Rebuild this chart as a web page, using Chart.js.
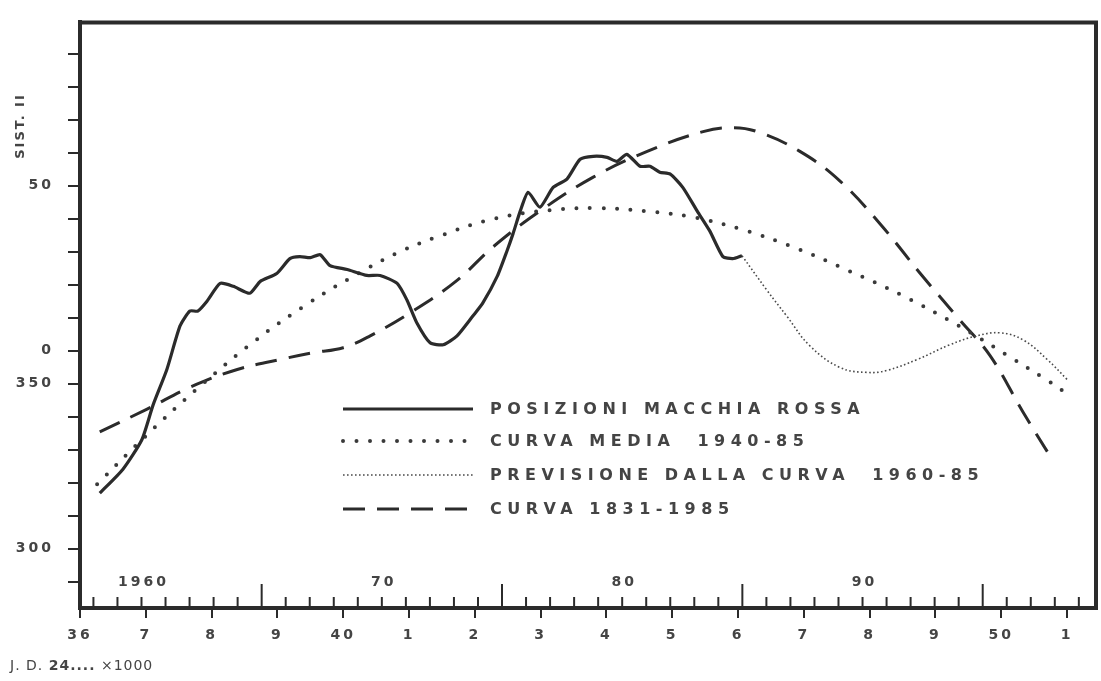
<!DOCTYPE html>
<html>
<head>
<meta charset="utf-8">
<script src="https://cdn.jsdelivr.net/npm/chart.js@4.4.0/dist/chart.umd.min.js"></script>
<style>
html, body { margin: 0; padding: 0; background: #fff; }
#wrap { width: 1101px; height: 681px; }
</style>
</head>
<body>
<div id="wrap"><canvas id="grsChart"></canvas></div>
<script>
// x = J.D. 24.... in thousands of days, y = longitude Sist. II (below 0 wraps to 360)
var seriesNames = ["POSIZIONI MACCHIA ROSSA", "CURVA MEDIA  1940-85", "PREVISIONE DALLA CURVA  1960-85", "CURVA 1831-1985"];

var posX = [36.30, 36.65, 36.94, 37.11, 37.32, 37.52, 37.67, 37.79, 37.93, 38.13, 38.33, 38.58, 38.74, 38.99, 39.19, 39.34, 39.50, 39.65, 39.80, 40.06, 40.36, 40.56, 40.82, 40.97, 41.12, 41.32, 41.52, 41.73, 41.97, 42.12, 42.34, 42.49, 42.58, 42.69, 42.81, 42.99, 43.19, 43.40, 43.60, 43.80, 44.01, 44.16, 44.31, 44.51, 44.66, 44.81, 44.97, 45.16, 45.38, 45.57, 45.77, 45.92, 46.06];
var posY = [-43.2, -36.0, -27.0, -16.5, -5.7, 7.5, 12.0, 12.0, 15.0, 20.4, 19.5, 17.4, 21.0, 23.4, 27.9, 28.5, 28.2, 29.1, 25.8, 24.6, 22.8, 22.8, 20.4, 15.3, 8.4, 2.4, 1.8, 4.5, 10.5, 14.4, 22.5, 30.3, 35.4, 42.3, 48.0, 43.5, 49.5, 52.0, 58.0, 58.9, 58.6, 57.4, 59.5, 55.9, 55.9, 54.1, 53.5, 49.5, 42.3, 36.3, 28.5, 27.9, 28.8];

var mediaX = [36.26, 36.94, 37.79, 38.66, 39.45, 40.07, 40.83, 41.47, 42.28, 43.14, 43.87, 44.59, 45.30, 46.03, 46.90, 47.67, 48.49, 49.33, 50.10, 50.70, 51.08];
var mediaY = [-40.5, -27.0, -11.4, 3.0, 14.1, 21.6, 29.7, 34.8, 39.9, 42.6, 43.2, 42.3, 40.5, 36.9, 30.9, 24.3, 16.8, 7.8, -1.5, -9.0, -14.1];

var prevX = [46.06, 46.44, 46.74, 47.09, 47.55, 47.96, 48.26, 48.72, 49.22, 49.63, 49.98, 50.33, 50.70, 51.00];
var prevY = [28.8, 18.3, 10.5, 1.5, -5.1, -6.6, -6.0, -2.7, 1.8, 4.5, 5.4, 3.3, -2.7, -8.7];

var longX = [36.30, 37.02, 37.67, 38.39, 39.04, 39.54, 40.00, 40.41, 41.06, 41.73, 42.28, 42.99, 43.80, 44.62, 45.47, 45.92, 46.29, 46.94, 47.55, 48.16, 48.77, 49.37, 49.83, 50.33, 50.70];
var longY = [-24.6, -17.7, -11.1, -5.7, -2.7, -0.6, 0.9, 4.5, 12.0, 21.3, 31.5, 42.3, 52.6, 60.4, 66.4, 67.6, 66.4, 60.4, 51.4, 38.4, 23.4, 9.3, -1.5, -18.6, -30.6];

var xTickLabels = ["36", "7", "8", "9", "40", "1", "2", "3", "4", "5", "6", "7", "8", "9", "50", "1"];
var yTickValues = [-60, -10, 0, 50];
var yTickLabels = ["300", "350", "0", "50"];
var yearMarks = [1960, 1970, 1980, 1990];
var yearLabels = ["1960", "70", "80", "90"];

var ink = "#2b2b2b";
var textInk = "#444";

function pts(xs, ys) {
    return xs.map(function (x, i) { return { x: x, y: ys[i] }; });
}

// J.D. (thousands, minus 2400000) of 1 January of a year
function yearToJD(y) {
    return 36.9345 + (y - 1960) * 0.36525;
}

var decor = {
    id: "decor",
    beforeDraw: function (chart) {
        chart.ctx.letterSpacing = "3px";
    },
    beforeDatasetsDraw: function (chart) {
        chart.ctx.letterSpacing = "0px";
    },
    afterDraw: function (chart) {
        var ctx = chart.ctx;
        var a = chart.chartArea;
        var xs = chart.scales.x;
        ctx.save();
        ctx.strokeStyle = ink;
        ctx.lineCap = "square";

        // rest of the frame
        ctx.lineWidth = 4;
        ctx.beginPath();
        ctx.moveTo(a.left, a.top);
        ctx.lineTo(a.right, a.top);
        ctx.lineTo(a.right, a.bottom);
        ctx.stroke();

        // year ticks pointing up from the base line
        ctx.lineWidth = 2;
        ctx.lineCap = "butt";
        for (var yr = 1958; yr <= 1999; yr++) {
            var px = xs.getPixelForValue(yearToJD(yr));
            if (px < a.left + 4 || px > a.right - 4) continue;
            var len = (yr % 10 === 5) ? 24 : 11;
            ctx.beginPath();
            ctx.moveTo(px, a.bottom);
            ctx.lineTo(px, a.bottom - len);
            ctx.stroke();
        }

        ctx.fillStyle = textInk;
        ctx.textBaseline = "middle";
        ctx.textAlign = "center";
        ctx.font = "bold 14px 'DejaVu Sans'";
        ctx.letterSpacing = "3px";
        yearMarks.forEach(function (yr, i) {
            ctx.fillText(yearLabels[i], xs.getPixelForValue(yearToJD(yr)) + 2, a.bottom - 26);
        });

        // axis captions
        ctx.save();
        ctx.translate(21, 126);
        ctx.rotate(-Math.PI / 2);
        ctx.font = "bold 13px 'DejaVu Sans'";
        ctx.letterSpacing = "2px";
        ctx.fillText("SIST. II", 0, 0);
        ctx.restore();

        ctx.textAlign = "left";
        ctx.letterSpacing = "1px";
        var cx = 10, cy = 666;
        var parts = [["J. D. ", "14px 'DejaVu Sans'"], ["24....", "bold 14px 'DejaVu Sans'"], [" \u00d71000", "14px 'DejaVu Sans'"]];
        parts.forEach(function (p) {
            ctx.font = p[1];
            ctx.fillText(p[0], cx, cy);
            cx += ctx.measureText(p[0]).width;
        });

        // legend inside the plot
        var opts = chart.options.plugins.decor;
        ctx.font = "bold 16px 'DejaVu Sans'";
        ctx.letterSpacing = "5.5px";
        chart.data.datasets.forEach(function (ds, i) {
            var ly = opts.rows[i];
            ctx.save();
            ctx.strokeStyle = ds.borderColor;
            ctx.lineWidth = ds.borderWidth;
            ctx.lineCap = ds.borderCapStyle || "butt";
            ctx.setLineDash(ds.borderDash || []);
            ctx.beginPath();
            ctx.moveTo(opts.x0, ly);
            ctx.lineTo(opts.x1, ly);
            ctx.stroke();
            ctx.restore();
            ctx.fillText(ds.label, opts.textX, ly + 1);
        });
        ctx.restore();
    }
};

var ctx = document.getElementById("grsChart").getContext("2d");
var grsChart = new Chart(ctx, {
    type: "line",
    data: {
        datasets: [{
            label: seriesNames[0],
            data: pts(posX, posY),
            borderColor: ink,
            borderWidth: 3.2,
            tension: 0.2,
        }, {
            label: seriesNames[1],
            data: pts(mediaX, mediaY),
            borderColor: "#3a3a3a",
            borderWidth: 4,
            borderDash: [0, 13.5],
            borderCapStyle: "round",
            tension: 0.4,
        }, {
            label: seriesNames[2],
            data: pts(prevX, prevY),
            borderColor: "#4a4a4a",
            borderWidth: 1.6,
            borderDash: [1.6, 2.4],
            tension: 0.4,
        }, {
            label: seriesNames[3],
            data: pts(longX, longY),
            borderColor: ink,
            borderWidth: 3,
            borderDash: [22, 12],
            tension: 0.4,
        }],
    },
    options: {
        responsive: true,
        maintainAspectRatio: false,
        animation: false,
        devicePixelRatio: 1,
        layout: { padding: { top: 17, right: 5, left: 0, bottom: 0 } },
        elements: { point: { radius: 0, hoverRadius: 0 } },
        plugins: {
            legend: { display: false },
            tooltip: { enabled: false },
            decor: { rows: [409, 441, 475, 509], x0: 343, x1: 473, textX: 490 },
        },
        scales: {
            x: {
                type: "linear",
                min: 36,
                max: 51.44,
                afterFit: function (s) { s.height = 73; },
                ticks: {
                    stepSize: 1,
                    includeBounds: false,
                    autoSkip: false,
                    maxRotation: 0,
                    padding: 9,
                    color: textInk,
                    font: { family: "DejaVu Sans", weight: "bold", size: 14 },
                    callback: function (v) { return xTickLabels[Math.round(v) - 36]; },
                },
                grid: { drawOnChartArea: false, tickLength: 10, lineWidth: 2, color: ink },
                border: { display: true, width: 4, color: ink },
            },
            y: {
                type: "linear",
                min: -78,
                max: 99.5,
                afterFit: function (s) { s.width = 80; },
                ticks: {
                    stepSize: 10,
                    includeBounds: false,
                    autoSkip: false,
                    padding: 14,
                    color: textInk,
                    font: { family: "DejaVu Sans", weight: "bold", size: 14 },
                    callback: function (v) {
                        var i = yTickValues.indexOf(v);
                        return i < 0 ? "" : yTickLabels[i];
                    },
                },
                grid: { drawOnChartArea: false, tickLength: 12, lineWidth: 2, color: ink },
                border: { display: true, width: 4, color: ink },
            },
        },
    },
    plugins: [decor],
});
</script>
</body>
</html>
